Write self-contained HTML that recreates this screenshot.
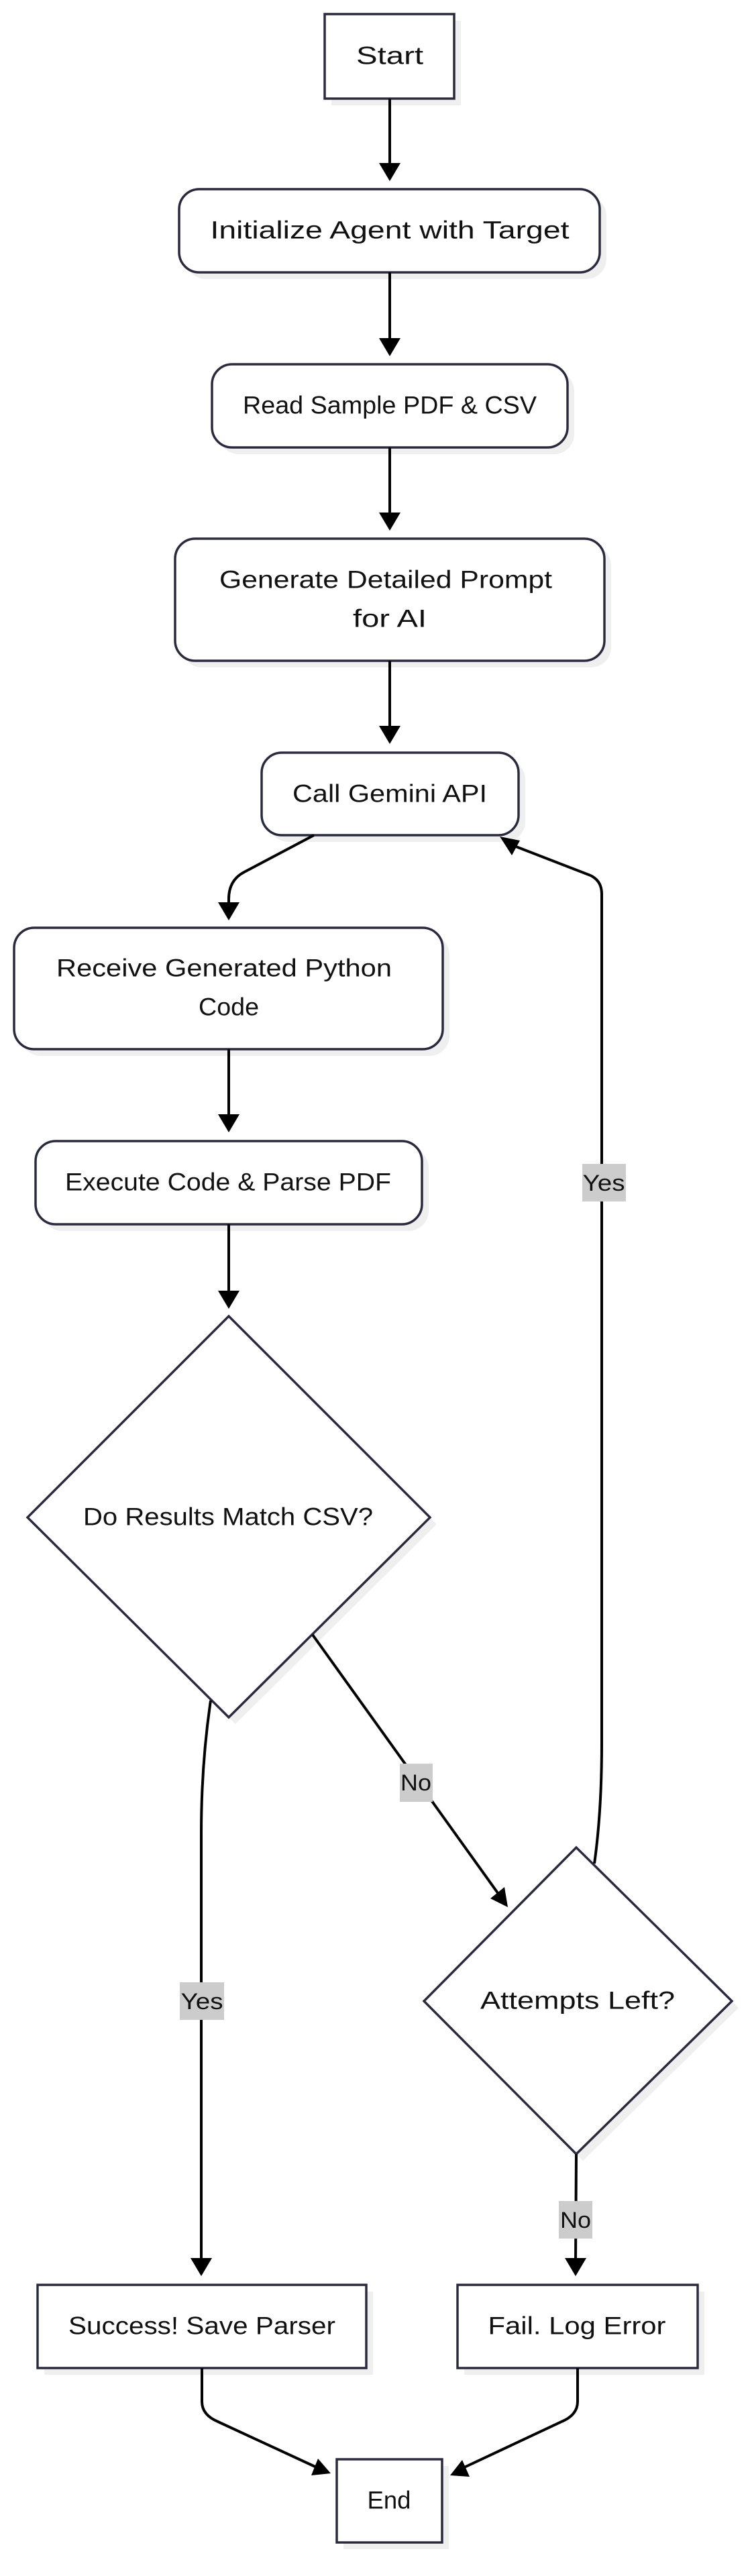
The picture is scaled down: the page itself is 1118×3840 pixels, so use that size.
<!DOCTYPE html>
<html><head><meta charset="utf-8"><style>
html,body{margin:0;padding:0;background:#fff;}
svg{display:block;}
text{font-family:"Liberation Sans",sans-serif;fill:#111;}
.n{font-size:37px;}
.l{font-size:34px;fill:#333344;}
</style></head><body>
<svg width="1118" height="3840" viewBox="0 0 1118 3840" xmlns="http://www.w3.org/2000/svg">
<defs>
<marker id="a" viewBox="0 0 10 10" refX="10" refY="5" markerWidth="10" markerHeight="10" markerUnits="userSpaceOnUse" orient="auto" overflow="visible">
</marker>
</defs>
<g fill="#efefef">
<rect x="494" y="31" width="193" height="126"/>
<rect x="277" y="292" width="627" height="124" rx="30"/>
<rect x="326" y="553" width="530" height="124" rx="30"/>
<rect x="271" y="813" width="640" height="182" rx="30"/>
<rect x="400" y="1132" width="383" height="123" rx="30"/>
<rect x="31" y="1393" width="639" height="181" rx="30"/>
<rect x="63" y="1711" width="576" height="124" rx="30"/>
<polygon points="351,1972 651,2272 351,2570 51,2272"/>
<polygon points="869,2764 1101,2993 869,3221 642,2993"/>
<rect x="66" y="3416" width="490" height="124"/>
<rect x="692" y="3416" width="358" height="124"/>
<rect x="512" y="3676" width="157" height="124"/>
</g>
<g fill="#fff" stroke="#2a2a3e" stroke-width="3.5">
<rect x="484" y="21" width="193" height="126"/>
<rect x="267" y="282" width="627" height="124" rx="30"/>
<rect x="316" y="543" width="530" height="124" rx="30"/>
<rect x="261" y="803" width="640" height="182" rx="30"/>
<rect x="390" y="1122" width="383" height="123" rx="30"/>
<rect x="21" y="1383" width="639" height="181" rx="30"/>
<rect x="53" y="1701" width="576" height="124" rx="30"/>
<polygon points="341,1962 641,2262 341,2560 41,2262"/>
<polygon points="859,2754 1091,2983 859,3211 632,2983"/>
<rect x="56" y="3406" width="490" height="124"/>
<rect x="682" y="3406" width="358" height="124"/>
<rect x="502" y="3666" width="157" height="124"/>
</g>
<g fill="none" stroke="#000" stroke-width="4">
<path d="M581 147 V250"/>
<path d="M581 406 V512"/>
<path d="M581 667 V772"/>
<path d="M581 985 V1090"/>
<path d="M468 1245 L364 1300 Q341 1312 341 1340 V1350"/>
<path d="M341 1564 V1668"/>
<path d="M341 1825 V1932"/>
<path d="M466 2437 L745 2826"/>
<path d="M314 2535 Q300 2630 300 2733 V3372"/>
<path d="M886 2778 Q897 2700 897 2600 V1333 Q897 1310 875 1303 L764 1260"/>
<path d="M859 3211 L858 3372"/>
<path d="M301 3530 V3580 Q301 3600 325 3610 L474 3679"/>
<path d="M861 3530 V3580 Q861 3600 837 3610 L690 3679"/>
</g>
<g fill="#000">
<polygon points="565,243 597,243 581,270"/>
<polygon points="565,504 597,504 581,531"/>
<polygon points="565,764 597,764 581,791"/>
<polygon points="565,1082 597,1082 581,1109"/>
<polygon points="325,1345 357,1345 341,1372"/>
<polygon points="325,1661 357,1661 341,1688"/>
<polygon points="325,1924 357,1924 341,1951"/>
<polygon points="284,3366 316,3366 300,3393"/>
<polygon points="842,3366 874,3366 858,3393"/>
<polygon points="757,2843 731,2830 752,2813"/>
<polygon points="745,1247 775,1253 763,1275"/>
<polygon points="493,3687 464,3690 474,3665"/>
<polygon points="671,3690 700,3692 689,3667"/>
</g>
<g fill="#cccccc">
<rect x="868" y="1735" width="65" height="56"/>
<rect x="596" y="2629" width="49" height="57"/>
<rect x="268" y="2955" width="66" height="56"/>
<rect x="833" y="3281" width="50" height="56"/>
</g>
<g class="l" text-anchor="middle" dominant-baseline="central">
<text x="900" y="1764" textLength="63" lengthAdjust="spacingAndGlyphs">Yes</text>
<text x="620" y="2658" textLength="46" lengthAdjust="spacingAndGlyphs">No</text>
<text x="301" y="2984" textLength="63" lengthAdjust="spacingAndGlyphs">Yes</text>
<text x="858" y="3310" textLength="46" lengthAdjust="spacingAndGlyphs">No</text>
</g>
<g class="n" text-anchor="middle" dominant-baseline="central">
<text x="581" y="83" textLength="100" lengthAdjust="spacingAndGlyphs">Start</text>
<text x="581" y="343" textLength="535" lengthAdjust="spacingAndGlyphs">Initialize Agent with Target</text>
<text x="581" y="604" textLength="438" lengthAdjust="spacingAndGlyphs">Read Sample PDF &amp; CSV</text>
<text x="575" y="864" textLength="496" lengthAdjust="spacingAndGlyphs">Generate Detailed Prompt</text>
<text x="581" y="922" textLength="110" lengthAdjust="spacingAndGlyphs">for AI</text>
<text x="581" y="1183" textLength="290" lengthAdjust="spacingAndGlyphs">Call Gemini API</text>
<text x="334" y="1443" textLength="500" lengthAdjust="spacingAndGlyphs">Receive Generated Python</text>
<text x="341" y="1501" textLength="90" lengthAdjust="spacingAndGlyphs">Code</text>
<text x="340" y="1762" textLength="486" lengthAdjust="spacingAndGlyphs">Execute Code &amp; Parse PDF</text>
<text x="340" y="2261" textLength="432" lengthAdjust="spacingAndGlyphs">Do Results Match CSV?</text>
<text x="861" y="2982" textLength="290" lengthAdjust="spacingAndGlyphs">Attempts Left?</text>
<text x="301" y="3467" textLength="398" lengthAdjust="spacingAndGlyphs">Success! Save Parser</text>
<text x="860" y="3467" textLength="265" lengthAdjust="spacingAndGlyphs">Fail. Log Error</text>
<text x="580" y="3727" textLength="65" lengthAdjust="spacingAndGlyphs">End</text>
</g>
</svg>
</body></html>
